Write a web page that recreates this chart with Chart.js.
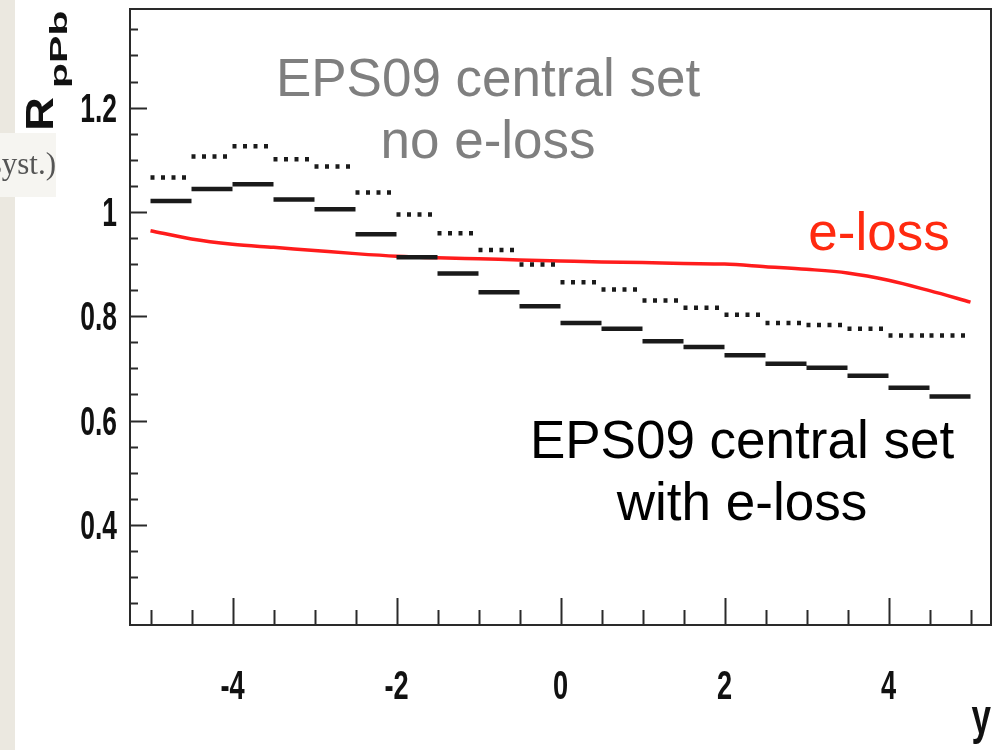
<!DOCTYPE html>
<html><head><meta charset="utf-8">
<script src="https://cdn.jsdelivr.net/npm/chart.js@4.4.1/dist/chart.umd.min.js"></script>
<style>html,body{margin:0;padding:0;background:#fff;}canvas{display:block}</style>
</head><body>
<canvas id="c" width="999" height="750"></canvas>
<script>
// Bins in rapidity y (width 0.5)
const binLow  = [-5,-4.5,-4,-3.5,-3,-2.5,-2,-1.5,-1,-0.5,0,0.5,1,1.5,2,2.5,3,3.5,4,4.5];
const binHigh = [-4.5,-4,-3.5,-3,-2.5,-2,-1.5,-1,-0.5,0,0.5,1,1.5,2,2.5,3,3.5,4,4.5,5];
// EPS09 central set with e-loss (solid steps)
const withEloss = [1.021,1.044,1.053,1.024,1.005,0.957,0.913,0.882,0.846,0.819,0.787,0.776,0.752,0.741,0.725,0.709,0.701,0.686,0.663,0.646];
// EPS09 central set, no e-loss (dotted steps)
const noEloss = [1.066,1.106,1.126,1.101,1.087,1.037,0.995,0.959,0.927,0.899,0.865,0.851,0.830,0.816,0.803,0.787,0.783,0.776,0.763,0.763];
// e-loss only (red curve)
const elossX = [-5,-4.5,-4,-3.5,-3,-2.5,-2,-1.5,-1,-0.5,0,0.5,1,1.5,2,2.5,3,3.5,4,4.5,5];
const elossY = [0.964,0.948,0.938,0.932,0.926,0.920,0.915,0.912,0.910,0.908,0.906,0.904,0.903,0.901,0.900,0.895,0.890,0.883,0.869,0.849,0.827];
// Axis ticks
const xTickValues = [-4,-2,0,2,4];
const xTickLabels = ['-4','-2','0','2','4'];
const yTickValues = [0.4,0.6,0.8,1,1.2];
const yTickLabels = ['0.4','0.6','0.8','1','1.2'];

function stepPoints(vals){
  const pts=[];
  vals.forEach((v,i)=>{pts.push({x:binLow[i],y:v},{x:binHigh[i],y:v},{x:binHigh[i],y:null});});
  return pts;
}
const curvePts = elossX.map((x,i)=>({x:x,y:elossY[i]}));

function txt(ctx, s, x, y, font, color, align, sx, rot){
  ctx.save();
  ctx.translate(x,y);
  ctx.scale(sx||1,1);
  if(rot) ctx.rotate(rot);
  ctx.font=font; ctx.fillStyle=color; ctx.textAlign=align||'left'; ctx.textBaseline='alphabetic';
  ctx.fillText(s,0,0);
  ctx.restore();
}
const TICKF = "bold 40px 'Liberation Sans',Arial,sans-serif";

const deco = {
  id:'deco',
  beforeDraw(chart){
    const ctx=chart.ctx;
    ctx.save();
    ctx.fillStyle='#ffffff'; ctx.fillRect(0,0,chart.width,chart.height);
    ctx.fillStyle='#ebe8e0'; ctx.fillRect(0,0,15,chart.height);
    ctx.fillStyle='#f6f5f1'; ctx.fillRect(0,133,56,64);
    ctx.restore();
    txt(ctx,'(syst.)',56,174,"31px 'Liberation Serif','Times New Roman',serif",'#555555','right');
  },
  afterDraw(chart){
    const ctx=chart.ctx, a=chart.chartArea, xs=chart.scales.x, ys=chart.scales.y;
    ctx.save();
    ctx.strokeStyle='#2a2a2a'; ctx.lineWidth=2;
    for(let v=-5; v<=5.001; v+=0.5){
      const px=Math.round(xs.getPixelForValue(v))+0.5;
      const major = Math.abs(v%2)<1e-6;
      ctx.beginPath(); ctx.moveTo(px,a.bottom); ctx.lineTo(px,a.bottom-(major?27:15)); ctx.stroke();
    }
    for(let i=5;i<=27;i++){
      const v=i*0.05;
      if(v<ys.min||v>ys.max) continue;
      const py=Math.round(ys.getPixelForValue(v))+0.5;
      const major = (i%4===0);
      ctx.beginPath(); ctx.moveTo(a.left,py); ctx.lineTo(a.left+(major?17:8),py); ctx.stroke();
    }
    ctx.strokeRect(a.left,a.top,a.right-a.left,a.bottom-a.top);
    ctx.restore();
    // tick labels from the library's scales
    xs.ticks.forEach(t=>{
      txt(ctx,xTickLabels[xTickValues.indexOf(t.value)],xs.getPixelForValue(t.value),699,TICKF,'#111','center',0.68);
    });
    ys.ticks.forEach(t=>{
      txt(ctx,yTickLabels[yTickValues.indexOf(t.value)],117,ys.getPixelForValue(t.value)+14,TICKF,'#111','right',0.66);
    });
    // axis titles
    txt(ctx,'R',53,131,"bold 47px 'Liberation Sans',Arial,sans-serif",'#111','left',0.82,-Math.PI/2);
    txt(ctx,'pPb',67,88,"bold 41px 'Liberation Sans',Arial,sans-serif",'#111','left',0.58,-Math.PI/2);
    txt(ctx,'y',991,734,"bold 50px 'Liberation Sans',Arial,sans-serif",'#111','right',0.7);
    // annotations
    const F="53px 'Liberation Sans',Arial,sans-serif";
    txt(ctx,'EPS09 central set',488,96,F,'#7f7f7f','center');
    txt(ctx,'no e-loss',488,158,F,'#7f7f7f','center');
    txt(ctx,'e-loss',879,250,F,'#ff2a10','center');
    txt(ctx,'EPS09 central set',742,458,F,'#000000','center');
    txt(ctx,'with e-loss',742,520,F,'#000000','center');
  }
};

new Chart(document.getElementById('c'),{
  type:'line',
  data:{datasets:[
    {label:'EPS09 central set with e-loss', data:stepPoints(withEloss), borderColor:'#1a1a1a', borderWidth:4.5, borderCapStyle:'butt', pointRadius:0, tension:0, spanGaps:false, fill:false},
    {label:'EPS09 central set no e-loss', data:stepPoints(noEloss), borderColor:'#1a1a1a', borderWidth:4.5, borderDash:[4,6.5], borderCapStyle:'butt', pointRadius:0, tension:0, spanGaps:false, fill:false},
    {label:'e-loss', data:curvePts, borderColor:'rgb(255,28,28)', borderWidth:3.5, pointRadius:0, cubicInterpolationMode:'monotone', fill:false}
  ]},
  options:{
    responsive:false, animation:false, devicePixelRatio:1,
    layout:{padding:{top:9,right:8,left:0,bottom:0}},
    plugins:{legend:{display:false}, tooltip:{enabled:false}},
    scales:{
      x:{type:'linear', min:-5.25, max:5.25,
         grid:{display:false, drawTicks:false}, border:{display:false},
         afterBuildTicks:s=>{s.ticks=xTickValues.map(v=>({value:v}));},
         afterFit:s=>{s.height=125; s.paddingLeft=0; s.paddingRight=0;},
         ticks:{display:false}},
      y:{type:'linear', min:0.208, max:1.389,
         grid:{display:false, drawTicks:false}, border:{display:false},
         afterBuildTicks:s=>{s.ticks=yTickValues.map(v=>({value:v}));},
         afterFit:s=>{s.width=130; s.paddingTop=0; s.paddingBottom=0;},
         ticks:{display:false}}
    }
  },
  plugins:[deco]
});
</script>
</body></html>
